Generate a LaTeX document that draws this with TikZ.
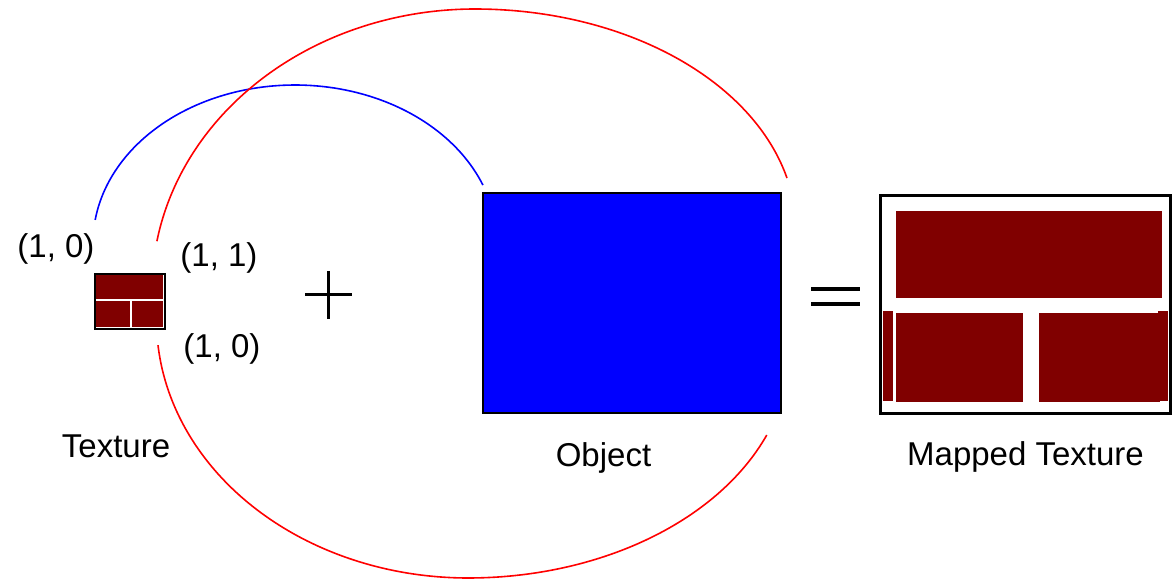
\documentclass[tikz,border=0pt]{standalone}
\usepackage{fontspec}
\setmainfont{Liberation Sans}
\definecolor{brick}{RGB}{128,0,0}
\begin{document}
\begin{tikzpicture}[x=1pt,y=-1pt,
  lbl/.style={font=\fontsize{33}{40}\selectfont, text=black, inner sep=0pt},
  framebox/.style={draw=black, inner sep=0pt, outer sep=0pt, anchor=north west},
  brickpart/.style={fill=brick, draw=none},
  gap/.style={draw=white, line width=1.3pt},
  redarc/.style={draw=red, line width=1.6pt},
  bluearc/.style={draw=blue, line width=1.6pt},
  sign/.style={draw=black, line width=3pt}]
\useasboundingbox (0,0) rectangle (1173,580);

% Texture
\node[framebox, line width=2pt, fill=brick, minimum width=70pt, minimum height=55pt] (tex) at (95,274) {};
\draw[gap] (96,300) -- (163,300) (131,300) -- (131,327.5);
\draw[gap, line width=1pt] (163.5,275) -- (163.5,328) (96,327.5) -- (164,327.5);
\node[lbl] (tl) at (56,249) {(1, 0)};
\node[lbl] (tr) at (219,258) {(1, 1)};
\node[lbl] (br) at (222,349) {(1, 0)};
\node[lbl, anchor=base] (texlbl) at (116,457) {Texture};

% plus and equals
\draw[sign] (305,294) -- (352,294) (328,271) -- (328,319);
\draw[draw=black, line width=4pt] (811,289) -- (860,289) (811,304) -- (860,304);

% Object
\node[framebox, line width=2pt, fill=blue, minimum width=298pt, minimum height=220pt] (obj) at (483,193) {};
\node[lbl, anchor=base] (objlbl) at (603.5,466) {Object};

% Mapped texture
\node[framebox, line width=3pt, fill=white, minimum width=290pt, minimum height=218pt] (map) at (880.5,195.5) {};
\fill[brickpart] (896,211) rectangle (1162,298);
\fill[brickpart] (896,313) rectangle (1023,402);
\fill[brickpart] (1039,313) rectangle (1160,402);
\fill[brickpart] (1158,311) rectangle (1168,401);
\fill[brickpart] (883,311) rectangle (893,401);
\node[lbl, anchor=base] (maplbl) at (1025.5,465) {Mapped Texture};

% arcs (quarter ellipses in picture coordinates)
\draw[bluearc] plot[domain=21.5:171.6, samples=90, variable=\t] ({295+202*cos(\t)}, {243-158*sin(\t)});
\draw[redarc] plot[domain=170:90, samples=80, variable=\t] ({475+323*cos(\t)}, {290-281*sin(\t)})
  -- plot[domain=90:13.6, samples=80, variable=\t] ({475+321*cos(\t)}, {230-221*sin(\t)});
\draw[redarc] plot[domain=185.6:270, samples=80, variable=\t] ({468+311.5*cos(\t)}, {320-258*sin(\t)})
  -- plot[domain=270:338.1, samples=80, variable=\t] ({468+322*cos(\t)}, {350-228*sin(\t)});
\end{tikzpicture}
\end{document}
